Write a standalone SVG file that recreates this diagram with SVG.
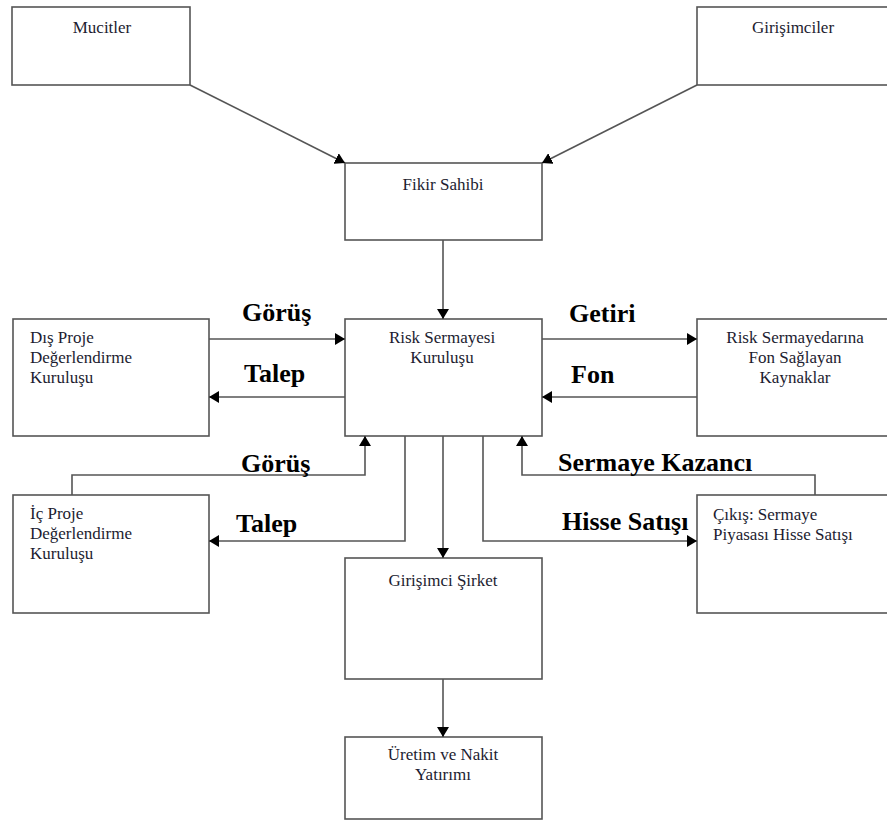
<svg xmlns="http://www.w3.org/2000/svg" width="887" height="821" viewBox="0 0 887 821">
<defs>
<style>
.box{fill:#fff;stroke:#555;stroke-width:1.6}
.t{font-family:"Liberation Serif","Times New Roman",serif;font-size:17px;fill:#1c1c30}
.c{text-anchor:middle}
.lbl{font-family:"Liberation Serif","Times New Roman",serif;font-size:26px;font-weight:bold;fill:#000}
.ln{fill:none;stroke:#555;stroke-width:1.6}
</style>
<marker id="ah" markerUnits="userSpaceOnUse" markerWidth="11" markerHeight="12" refX="10" refY="6" orient="auto">
<path d="M0,0 L10,6 L0,12 z" fill="#000"/>
</marker>
</defs>
<rect width="887" height="821" fill="#fff"/>
<g id="mucitler"><rect class="box" x="12" y="7" width="178" height="78"/><text class="t c" x="102" y="33">Mucitler</text></g>
<g id="girisimciler"><rect class="box" x="697" y="7" width="210" height="78"/><text class="t c" x="793" y="33">Girişimciler</text></g>
<g id="fikir"><rect class="box" x="345" y="163" width="197" height="77"/><text class="t c" x="443" y="190">Fikir Sahibi</text></g>
<g id="dis"><rect class="box" x="13" y="319" width="196" height="117"/><text class="t" x="30" y="343">Dış Proje</text><text class="t" x="30" y="363">Değerlendirme</text><text class="t" x="30" y="383">Kuruluşu</text></g>
<g id="risk"><rect class="box" x="345" y="319" width="197" height="117"/><text class="t c" x="442" y="343">Risk Sermayesi</text><text class="t c" x="442" y="363">Kuruluşu</text></g>
<g id="fon"><rect class="box" x="697" y="319" width="210" height="117"/><text class="t c" x="795" y="343">Risk Sermayedarına</text><text class="t c" x="795" y="363">Fon Sağlayan</text><text class="t c" x="795" y="383">Kaynaklar</text></g>
<g id="ic"><rect class="box" x="13" y="495" width="196" height="118"/><text class="t" x="30" y="519">İç Proje</text><text class="t" x="30" y="539">Değerlendirme</text><text class="t" x="30" y="559">Kuruluşu</text></g>
<g id="cikis"><rect class="box" x="697" y="495" width="210" height="118"/><text class="t" x="713" y="520">Çıkış: Sermaye</text><text class="t" x="713" y="540">Piyasası Hisse Satışı</text></g>
<g id="sirket"><rect class="box" x="345" y="558" width="197" height="121"/><text class="t c" x="443" y="586">Girişimci Şirket</text></g>
<g id="uretim"><rect class="box" x="345" y="737" width="197" height="82"/><text class="t c" x="443" y="760">Üretim ve Nakit</text><text class="t c" x="443" y="780">Yatırımı</text></g>
<g id="connectors">
<line class="ln" x1="190" y1="85" x2="345" y2="163" marker-end="url(#ah)"/>
<line class="ln" x1="697" y1="85" x2="542" y2="163" marker-end="url(#ah)"/>
<line class="ln" x1="443" y1="240" x2="443" y2="319" marker-end="url(#ah)"/>
<line class="ln" x1="209" y1="339" x2="345" y2="339" marker-end="url(#ah)"/>
<line class="ln" x1="345" y1="397" x2="209" y2="397" marker-end="url(#ah)"/>
<line class="ln" x1="542" y1="339" x2="697" y2="339" marker-end="url(#ah)"/>
<line class="ln" x1="697" y1="397" x2="542" y2="397" marker-end="url(#ah)"/>
<polyline class="ln" points="72,495 72,475 365,475 365,436" marker-end="url(#ah)"/>
<polyline class="ln" points="405,436 405,541 209,541" marker-end="url(#ah)"/>
<line class="ln" x1="443" y1="436" x2="443" y2="558" marker-end="url(#ah)"/>
<polyline class="ln" points="483,436 483,541 697,541" marker-end="url(#ah)"/>
<polyline class="ln" points="815,495 815,475 522,475 522,436" marker-end="url(#ah)"/>
<line class="ln" x1="443" y1="679" x2="443" y2="737" marker-end="url(#ah)"/>
<text class="lbl" x="242" y="321">Görüş</text>
<text class="lbl" x="244" y="382">Talep</text>
<text class="lbl" x="569" y="322">Getiri</text>
<text class="lbl" x="571" y="383">Fon</text>
<text class="lbl" x="241" y="472">Görüş</text>
<text class="lbl" x="236" y="532">Talep</text>
<text class="lbl" x="558" y="471">Sermaye Kazancı</text>
<text class="lbl" x="562" y="530">Hisse Satışı</text>
</g>
</svg>
